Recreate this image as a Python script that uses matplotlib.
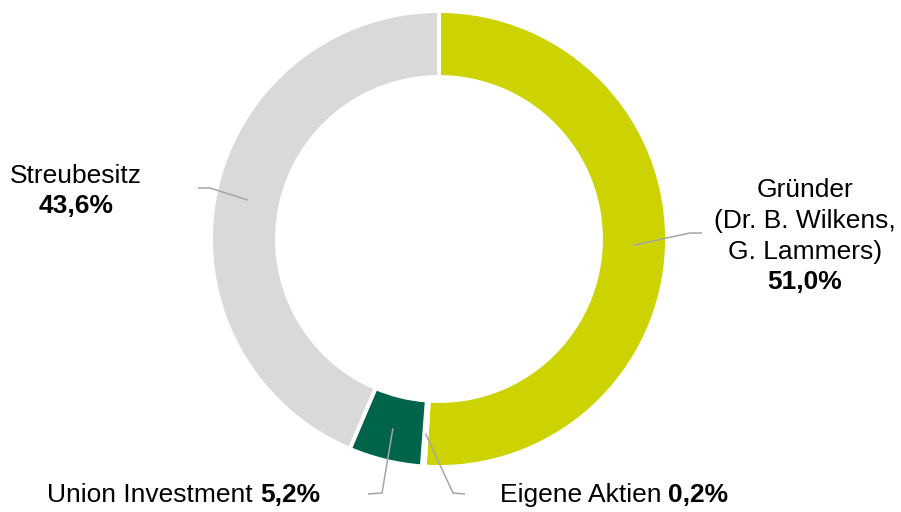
import numpy as np
import matplotlib
matplotlib.use("Agg")
import matplotlib.pyplot as plt

# Data
categories = ["Gründer (Dr. B. Wilkens, G. Lammers)", "Eigene Aktien", "Union Investment", "Streubesitz"]
values = [51.0, 0.2, 5.2, 43.6]
value_labels = ["51,0%", "0,2%", "5,2%", "43,6%"]
colors = ["#CCD300", "#7F7F7F", "#00644A", "#D9D9D9"]

W, H = 901, 512
fig = plt.figure(figsize=(W / 100, H / 100), dpi=100)
ax = fig.add_axes([0, 0, 1, 1])

def py(y):
    return H - y

cx, cy = 439, py(239)
R_out, R_in = 228, 162
ax.pie(values, colors=colors, startangle=90, counterclock=False,
       radius=R_out, center=(cx, cy),
       wedgeprops=dict(width=R_out - R_in, edgecolor="white", linewidth=2.8))
ax.set_xlim(0, W)
ax.set_ylim(0, H)
ax.set_aspect("equal")
ax.axis("off")

# leader lines: anchor at mid-ring of each slice
cum = np.cumsum([0] + values)
mid_angles = [90 - 3.6 * (cum[i] + values[i] / 2) for i in range(len(values))]
r_mid = (R_out + R_in) / 2
elbows = [
    [(690, 233), (702, 233)],
    [(453, 493), (465, 494)],
    [(382, 493), (368, 494)],
    [(210, 188), (198, 188)],
]
for ang, pts in zip(mid_angles, elbows):
    a = np.deg2rad(ang)
    xs = [cx + r_mid * np.cos(a)] + [p[0] for p in pts]
    ys = [cy + r_mid * np.sin(a)] + [py(p[1]) for p in pts]
    ax.plot(xs, ys, color="#A6A6A6", lw=1.1, solid_capstyle="butt")

fs = 19
font = "Liberation Sans"
kw = dict(fontsize=fs, family=font, color="black")

# Gründer
ax.text(805, py(197), "Gründer", ha="center", va="baseline", **kw)
ax.text(805, py(228), "(Dr. B. Wilkens,", ha="center", va="baseline", **kw)
ax.text(805, py(259), "G. Lammers)", ha="center", va="baseline", **kw)
ax.text(805, py(289), value_labels[0], ha="center", va="baseline", fontweight="bold", **kw)

# Streubesitz
ax.text(76, py(183), "Streubesitz", ha="center", va="baseline", **kw)
ax.text(76, py(213), value_labels[3], ha="center", va="baseline", fontweight="bold", **kw)

# Union Investment
ax.text(253, py(502), "Union Investment", ha="right", va="baseline", **kw)
ax.text(260, py(502), value_labels[2], ha="left", va="baseline", fontweight="bold", **kw)

# Eigene Aktien
ax.text(662, py(502), "Eigene Aktien", ha="right", va="baseline", **kw)
ax.text(668, py(502), value_labels[1], ha="left", va="baseline", fontweight="bold", **kw)

fig.savefig("out.png", dpi=100)
